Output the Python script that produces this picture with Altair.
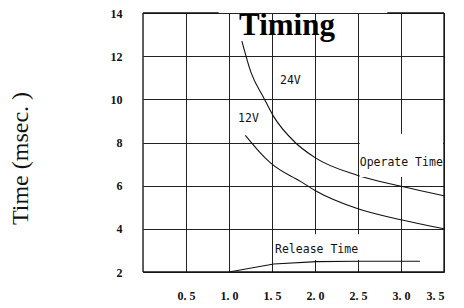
import altair as alt
import pandas as pd

# ---- data ----
v24_x = [1.15, 1.26, 1.40, 1.52, 1.77, 2.00, 2.50, 3.00, 3.50]
v24_y = [12.7, 11.2, 10.1, 9.2, 8.0, 7.3, 6.47, 5.97, 5.53]
v12_x = [1.19, 1.42, 1.50, 1.83, 2.00, 2.50, 3.00, 3.50]
v12_y = [8.33, 7.29, 7.0, 6.2, 5.78, 4.93, 4.42, 4.0]
rel_x = [1.0, 1.52, 2.02, 2.5, 3.22]
rel_y = [2.0, 2.37, 2.48, 2.5, 2.5]

x_ticks = [0.5, 1.0, 1.5, 2.0, 2.5, 3.0, 3.5]
y_ticks = [2, 4, 6, 8, 10, 12, 14]

label_text = ["24V", "12V", "Operate Time", "Release Time"]
label_x = [1.593, 1.105, 2.52, 1.535]
label_y = [10.84, 9.07, 7.07, 3.02]

title_text = ["Timing"]
title_x = [1.674]
title_y = [12.98]

# white erasures behind labels (as in the scanned original)
mask_x = [2.52, 1.56]
mask_x2 = [3.49, 2.75]
mask_y = [6.4, 2.56]
mask_y2 = [8.4, 3.75]

# frame segments (top border is broken by the title)
frame_x = [0.0, 3.5, 0.0, 0.0, 2.84]
frame_x2 = [0.0, 3.5, 3.5, 0.88, 3.5]
frame_y = [2, 2, 2, 14, 14]
frame_y2 = [14, 14, 2, 14, 14]

curves = pd.DataFrame(
    [{"s": "24V", "x": a, "y": b, "o": i} for i, (a, b) in enumerate(zip(v24_x, v24_y))]
    + [{"s": "12V", "x": a, "y": b, "o": i} for i, (a, b) in enumerate(zip(v12_x, v12_y))]
)
release = pd.DataFrame({"x": rel_x, "y": rel_y})
labels = pd.DataFrame({"t": label_text, "x": label_x, "y": label_y})
title = pd.DataFrame({"t": title_text, "x": title_x, "y": title_y})
masks = pd.DataFrame({"x": mask_x, "x2": mask_x2, "y": mask_y, "y2": mask_y2})
frame = pd.DataFrame({"x": frame_x, "x2": frame_x2, "y": frame_y, "y2": frame_y2})

xs = alt.Scale(domain=[0, 3.5], nice=False, zero=False)
ys = alt.Scale(domain=[2, 14], nice=False, zero=False)

x_axis = alt.Axis(
    values=x_ticks, grid=True, gridColor="#222", gridWidth=1, domain=False, ticks=False,
    labelExpr="replace(format(datum.value, '.1f'), '.', '. ')",
    labelFont="Liberation Serif", labelFontWeight="bold", labelFontSize=12,
    labelColor="#111", labelPadding=18, title=None,
)
y_axis = alt.Axis(
    values=y_ticks, grid=True, gridColor="#222", gridWidth=1, domain=False, ticks=False,
    labelFont="Liberation Serif", labelFontWeight="bold", labelFontSize=12,
    labelColor="#111", labelPadding=21,
    title="Time (msec. )", titleFont="Liberation Serif", titleFontWeight="normal",
    titleFontSize=24, titleColor="#111", titleX=-123, titleY=145, titleAngle=270,
    titleBaseline="middle", titleAlign="center",
)

base = alt.Chart(curves).mark_line(color="#111", strokeWidth=1.1, interpolate="monotone").encode(
    x=alt.X("x:Q", scale=xs, axis=x_axis),
    y=alt.Y("y:Q", scale=ys, axis=y_axis),
    detail="s:N",
    order="o:Q",
)

mask_layer = alt.Chart(masks).mark_rect(color="white").encode(
    x=alt.X("x:Q", scale=xs), x2="x2", y=alt.Y("y:Q", scale=ys), y2="y2"
)

frame_layer = alt.Chart(frame).mark_rule(color="#111", strokeWidth=1.3).encode(
    x=alt.X("x:Q", scale=xs), x2="x2", y=alt.Y("y:Q", scale=ys), y2="y2"
)

rel_layer = alt.Chart(release).mark_line(color="#111", strokeWidth=1.1).encode(
    x=alt.X("x:Q", scale=xs), y=alt.Y("y:Q", scale=ys)
)

label_layer = alt.Chart(labels).mark_text(
    align="left", baseline="middle", font="DejaVu Sans Mono", fontSize=11.5, color="#111"
).encode(x=alt.X("x:Q", scale=xs), y=alt.Y("y:Q", scale=ys), text="t:N")

title_layer = alt.Chart(title).mark_text(
    align="center", baseline="alphabetic", font="Liberation Serif", fontWeight="bold",
    fontSize=31, color="#000"
).encode(x=alt.X("x:Q", scale=xs), y=alt.Y("y:Q", scale=ys), text="t:N")

chart = alt.layer(
    base, mask_layer, rel_layer, frame_layer, label_layer, title_layer
).properties(
    width=301, height=259,
    autosize=alt.AutoSizeParams(type="none"),
    padding={"left": 135, "top": 5, "right": 12, "bottom": 36},
).configure_view(stroke=None).configure(background="white")

chart.save("out.html", embed_options={"renderer": "svg", "actions": False})
